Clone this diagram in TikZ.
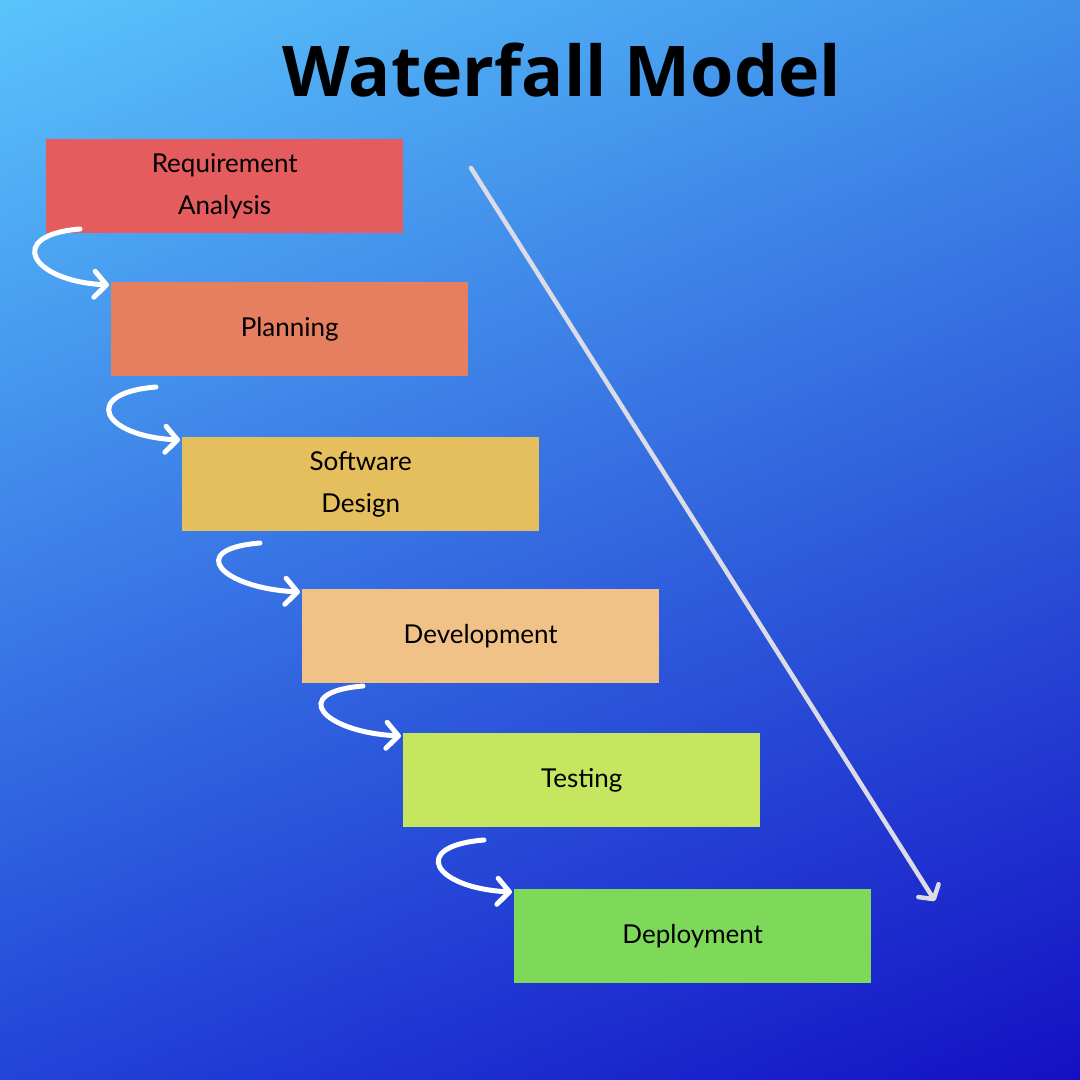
\documentclass[tikz,border=0pt]{standalone}
\usepackage{fontspec}
\setmainfont{Lato}
\newfontfamily\titlefont{Open Sans}
\usetikzlibrary{arrows.meta,shadings}
\definecolor{bgTL}{HTML}{5AC4FB}
\definecolor{bgTR}{HTML}{4090EA}
\definecolor{bgBL}{HTML}{2244D8}
\definecolor{bgBR}{HTML}{1410C4}
\definecolor{cReq}{HTML}{E55C5E}
\definecolor{cPlan}{HTML}{E67E60}
\definecolor{cDes}{HTML}{E5BF5E}
\definecolor{cDev}{HTML}{F1C287}
\definecolor{cTest}{HTML}{C5E65E}
\definecolor{cDep}{HTML}{7ED95B}
\definecolor{flowgray}{HTML}{DCDCE6}
\tikzset{
  stage/.style={minimum width=357pt, minimum height=94pt, inner sep=0pt, anchor=north west,
    align=center, font=\fontsize{26}{42}\selectfont, text=black},
  curl/.style={white, line width=5pt, line cap=round,
    -{Straight Barb[length=12pt, width=26pt, line cap=round, line join=round]}},
  flow/.style={flowgray, line width=4.5pt, line cap=round,
    -{Straight Barb[length=10pt, width=24pt, line cap=round, line join=round]}}
}
\begin{document}
\begin{tikzpicture}[x=1pt,y=-1pt]
\shade[upper left=bgTL, upper right=bgTR, lower left=bgBL, lower right=bgBR] (0,0) rectangle (1080,1080);
\useasboundingbox (0,0) rectangle (1080,1080);

\node[font=\titlefont\bfseries\fontsize{70}{80}\selectfont, text=black] (title) at (562,70) {Waterfall Model};

\node[stage, fill=cReq]  (req)  at (46,139)  {Requirement\\Analysis};
\node[stage, fill=cPlan] (plan) at (111,282) {Planning};
\node[stage, fill=cDes]  (des)  at (182,437) {Software\\Design};
\node[stage, fill=cDev]  (dev)  at (302,589) {Development};
\node[stage, fill=cTest] (test) at (403,733) {Testing};
\node[stage, fill=cDep]  (dep)  at (514,889) {Deployment};

\coordinate (s1) at (80,229);
\coordinate (s2) at (156,387);
\coordinate (s3) at (260,543);
\coordinate (s4) at (363,686);
\coordinate (s5) at (484,840);

\draw[curl] (s1) .. controls +(-75,6) and +(-79,-4) .. ([xshift=-2pt,yshift=-3pt]plan.north west);
\draw[curl] (s2) .. controls +(-75,6) and +(-79,-4) .. ([xshift=-2pt,yshift=-3pt]des.north west);
\draw[curl] (s3) .. controls +(-75,6) and +(-79,-4) .. ([xshift=-2pt,yshift=-3pt]dev.north west);
\draw[curl] (s4) .. controls +(-75,6) and +(-79,-4) .. ([xshift=-2pt,yshift=-3pt]test.north west);
\draw[curl] (s5) .. controls +(-75,6) and +(-79,-4) .. ([xshift=-2pt,yshift=-3pt]dep.north west);

\coordinate (fstart) at (471,168);
\coordinate (fend) at (935,901);
\draw[flow] (fstart) -- (fend);
\end{tikzpicture}
\end{document}
